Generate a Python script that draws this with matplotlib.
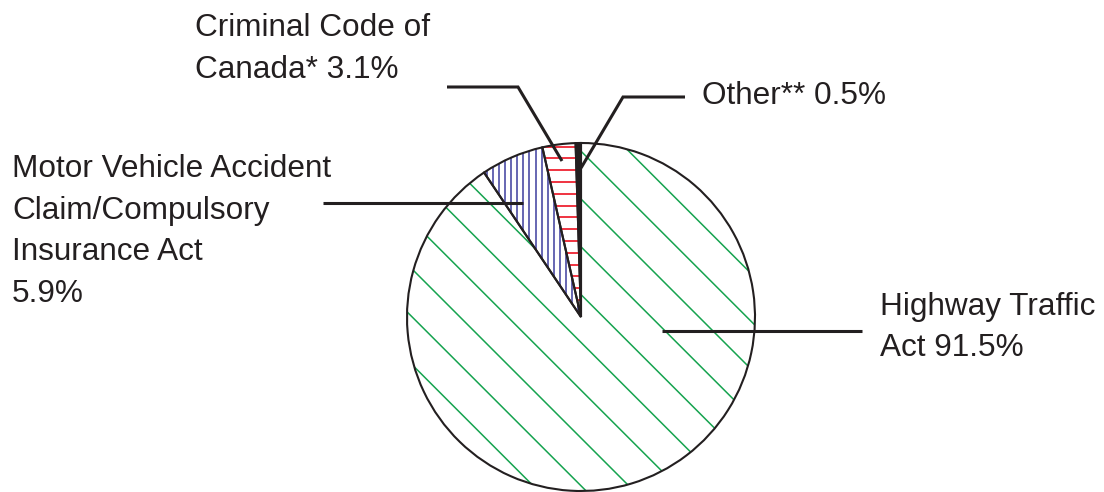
import numpy as np
import matplotlib.pyplot as plt

plt.rcParams['font.family'] = ['Liberation Sans', 'DejaVu Sans']

# slices, counter-clockwise from 12 o'clock
categories = ["Other**", "Criminal Code of Canada*",
              "Motor Vehicle Accident Claim/Compulsory Insurance Act",
              "Highway Traffic Act"]
shares = [0.5, 3.1, 5.9, 91.5]
label_lines = [
    ["Other** {:.1f}%"],
    ["Criminal Code of", "Canada* {:.1f}%"],
    ["Motor Vehicle Accident", "Claim/Compulsory", "Insurance Act", "{:.1f}%"],
    ["Highway Traffic", "Act {:.1f}%"],
]

W, H = 1104, 492
ink = '#231f20'
green = '#16a34f'
red = '#ef3340'
blue = '#3d3d9e'


def py(y):
    # pixel row (from top) -> data y
    return H - y


fig = plt.figure(figsize=(W / 100, H / 100), dpi=100)
ax = fig.add_axes([0, 0, 1, 1])

cx, cy, r = 581, 317, 174
wedges, _ = ax.pie(shares, startangle=90, counterclock=True,
                   center=(cx, py(cy)), radius=r,
                   colors=[ink, 'none', 'none', 'none'],
                   wedgeprops=dict(edgecolor=ink, linewidth=1.5))
ax.set_xlim(0, W)
ax.set_ylim(0, H)
ax.set_aspect('equal')
ax.axis('off')

# hand-made hatching, clipped to each wedge
for c in 143 + 47.8 * np.arange(-6, 12):
    xs = np.array([380.0, 800.0])
    ln, = ax.plot(xs, H - (xs - c), color=green, lw=1.1, zorder=0.5)
    ln.set_clip_path(wedges[3])

for yy in 158.3 + 11.8 * np.arange(-2, 16):
    ln, = ax.plot([510, 600], [py(yy), py(yy)], color=red, lw=1.4, zorder=0.5)
    ln.set_clip_path(wedges[1])

for xx in 486.7 + 6.1 * np.arange(-3, 17):
    ln, = ax.plot([xx, xx], [py(130), py(340)], color=blue, lw=1.1, zorder=0.5)
    ln.set_clip_path(wedges[2])

# leader lines
leaders = [
    [(685, 97), (623, 97), (581, 168)],
    [(447, 87), (518, 87), (562, 161)],
    [(323, 203), (523, 203)],
    [(662, 331), (862, 331)],
]
for pts in leaders:
    xs = [p[0] for p in pts]
    ys = [py(p[1]) for p in pts]
    ax.plot(xs, ys, color=ink, lw=2.2, solid_capstyle='butt',
            solid_joinstyle='miter', zorder=3)

# labels: left x and first baseline (pixels), line step
anchors = [(702, 104), (195, 36), (12, 177), (880, 315)]
step = 41.5
for lines, share, (lx, ly) in zip(label_lines, shares, anchors):
    for i, t in enumerate(lines):
        ax.text(lx, py(ly + i * step), t.format(share), fontsize=22.7,
                color=ink, ha='left', va='baseline')

fig.savefig('out.png', dpi=100, facecolor='white')
